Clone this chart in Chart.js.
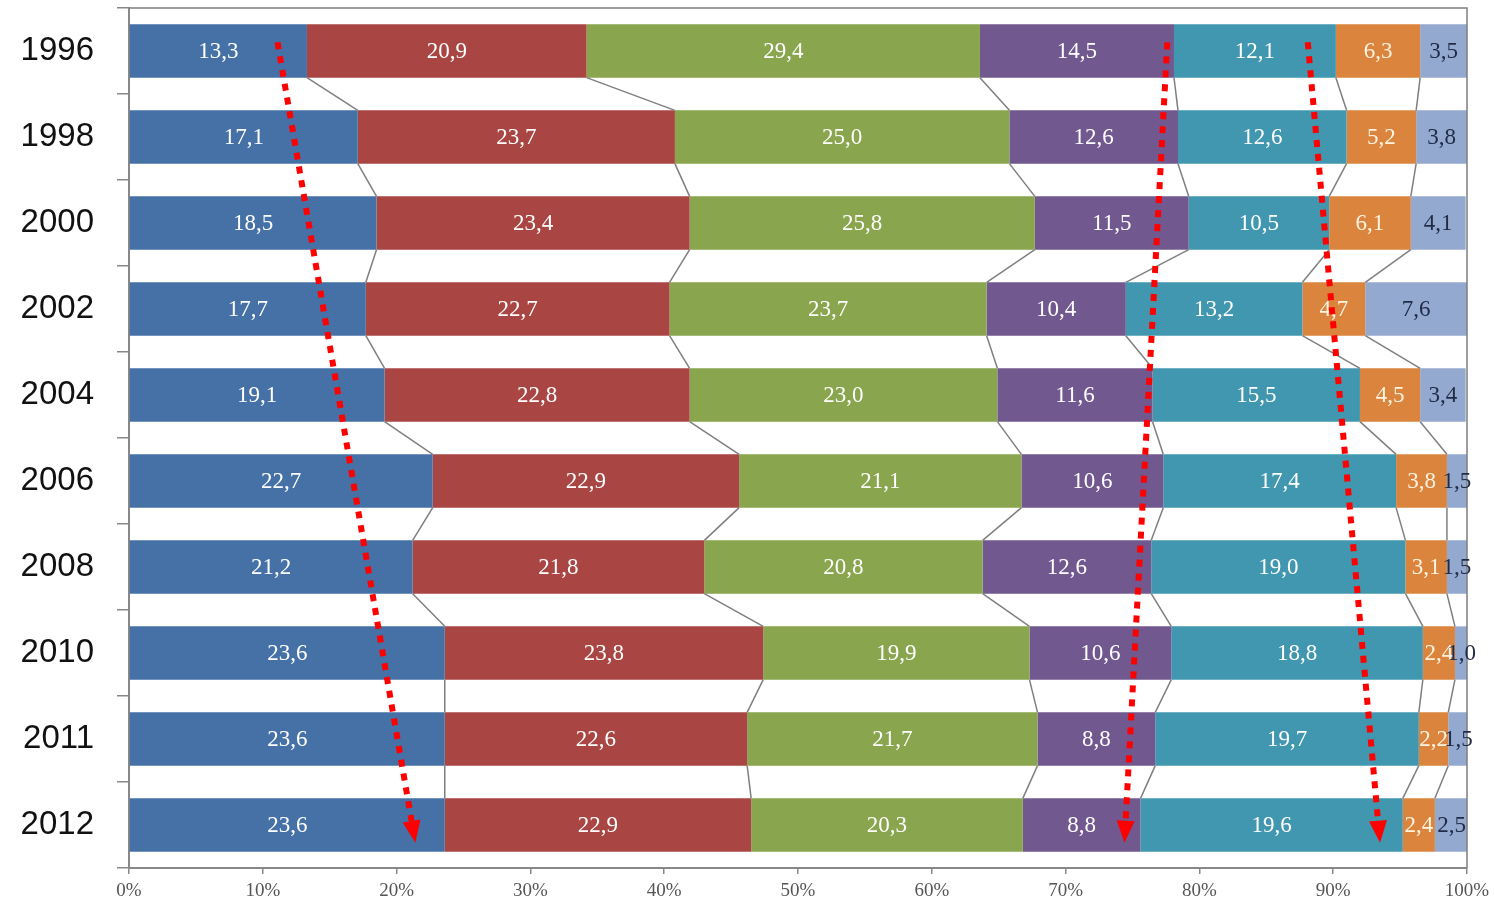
<!DOCTYPE html>
<html lang="zh">
<head>
  <meta charset="UTF-8">
  <title>1996-2012 shares</title>
  <script src="https://cdn.jsdelivr.net/npm/chart.js"></script>
  <style>
    html, body { margin: 0; padding: 0; background: #fff; }
    canvas { display: block; }
  </style>
</head>
<body>
  <canvas id="shareChart" width="1494" height="902"></canvas>
  <script>
    // data
    const years = ['1996', '1998', '2000', '2002', '2004', '2006', '2008', '2010', '2011', '2012'];
    const s1 = [13.3, 17.1, 18.5, 17.7, 19.1, 22.7, 21.2, 23.6, 23.6, 23.6];
    const s2 = [20.9, 23.7, 23.4, 22.7, 22.8, 22.9, 21.8, 23.8, 22.6, 22.9];
    const s3 = [29.4, 25.0, 25.8, 23.7, 23.0, 21.1, 20.8, 19.9, 21.7, 20.3];
    const s4 = [14.5, 12.6, 11.5, 10.4, 11.6, 10.6, 12.6, 10.6, 8.8, 8.8];
    const s5 = [12.1, 12.6, 10.5, 13.2, 15.5, 17.4, 19.0, 18.8, 19.7, 19.6];
    const s6 = [6.3, 5.2, 6.1, 4.7, 4.5, 3.8, 3.1, 2.4, 2.2, 2.4];
    const s7 = [3.5, 3.8, 4.1, 7.6, 3.4, 1.5, 1.5, 1.0, 1.5, 2.5];
    const xTicks = [0, 10, 20, 30, 40, 50, 60, 70, 80, 90, 100];

    // red trend arrows: % position in 1996 -> % position in 2012
    const arrowFrom = [11.1, 77.6, 88.1];
    const arrowTo = [21.4, 74.4, 93.5];

    const series = [s1, s2, s3, s4, s5, s6, s7];
    const fills = ['#4571a7', '#a94643', '#89a54e', '#71588f', '#4197af', '#db843d', '#93a9cf'];
    const labelColors = ['#ffffff', '#ffffff', '#ffffff', '#ffffff', '#ffffff', '#fff3df', '#1f2b47'];

    const fmt = v => v.toFixed(1).replace('.', ',');

    const seriesLines = {
      id: 'seriesLines',
      afterDatasetsDraw(chart) {
        const ctx = chart.ctx;
        ctx.save();
        ctx.strokeStyle = '#7f7f7f';
        ctx.lineWidth = 1.5;
        for (let d = 0; d < series.length - 1; d++) {
          const els = chart.getDatasetMeta(d).data;
          for (let k = 0; k < els.length - 1; k++) {
            const a = els[k], b = els[k + 1];
            ctx.beginPath();
            ctx.moveTo(a.x, a.y + a.height / 2);
            ctx.lineTo(b.x, b.y - b.height / 2);
            ctx.stroke();
          }
        }
        // frame top / right
        const ca = chart.chartArea;
        ctx.beginPath();
        ctx.moveTo(ca.left, ca.top);
        ctx.lineTo(ca.right, ca.top);
        ctx.lineTo(ca.right, ca.bottom);
        ctx.stroke();

        // value labels
        ctx.font = '23px "Liberation Serif", "Times New Roman", serif';
        ctx.textAlign = 'center';
        ctx.textBaseline = 'middle';
        series.forEach((vals, d) => {
          ctx.fillStyle = labelColors[d];
          chart.getDatasetMeta(d).data.forEach((el, k) => {
            const cx = (el.x + el.base) / 2;
            ctx.fillText(fmt(vals[k]), cx, el.y + 1);
          });
        });

        // dotted red arrows
        const xs = chart.scales.x;
        const first = chart.getDatasetMeta(0).data[0];
        const last = chart.getDatasetMeta(0).data[years.length - 1];
        ctx.fillStyle = '#ff0000';
        ctx.strokeStyle = '#ff0000';
        ctx.lineWidth = 6;
        arrowFrom.forEach((p, i) => {
          const x0 = xs.getPixelForValue(p);
          const y0 = first.y - first.height / 2 + 18;
          const x1 = xs.getPixelForValue(arrowTo[i]);
          const y1 = last.y + last.height / 2 - 9;
          const ang = Math.atan2(y1 - y0, x1 - x0);
          const head = 22, half = 9;
          const bx = x1 - head * Math.cos(ang);
          const by = y1 - head * Math.sin(ang);
          ctx.setLineDash([7, 7]);
          ctx.beginPath();
          ctx.moveTo(x0, y0);
          ctx.lineTo(bx, by);
          ctx.stroke();
          ctx.setLineDash([]);
          ctx.beginPath();
          ctx.moveTo(x1, y1);
          ctx.lineTo(bx + half * Math.sin(ang), by - half * Math.cos(ang));
          ctx.lineTo(bx - half * Math.sin(ang), by + half * Math.cos(ang));
          ctx.closePath();
          ctx.fill();
        });
        ctx.restore();
      }
    };

    new Chart(document.getElementById('shareChart'), {
      type: 'bar',
      data: {
        labels: years,
        datasets: series.map((vals, d) => ({
          data: vals,
          backgroundColor: fills[d],
          borderWidth: 0,
          barPercentage: 0.62,
          categoryPercentage: 1
        }))
      },
      options: {
        indexAxis: 'y',
        responsive: false,
        animation: false,
        devicePixelRatio: 1,
        layout: { padding: { top: 8, right: 27, left: 0, bottom: 0 } },
        plugins: { legend: { display: false }, tooltip: { enabled: false } },
        scales: {
          x: {
            stacked: true,
            min: 0,
            max: 100,
            afterBuildTicks: s => { s.ticks = xTicks.map(v => ({ value: v })); },
            afterFit: s => { s.height = 34; s.paddingLeft = 0; s.paddingRight = 0; },
            ticks: {
              callback: v => v + '%',
              color: '#555555',
              padding: 6,
              maxRotation: 0,
              font: { family: '"Liberation Serif", "Times New Roman", serif', size: 19 }
            },
            grid: { drawOnChartArea: false, tickLength: 6, color: '#888888', lineWidth: 1.5 },
            border: { color: '#888888', width: 2 }
          },
          y: {
            stacked: true,
            afterFit: s => { s.width = 129; s.paddingTop = 0; s.paddingBottom = 0; },
            ticks: {
              color: '#111111',
              padding: 23,
              font: { family: '"Liberation Sans", Arial, sans-serif', size: 33 }
            },
            grid: { drawOnChartArea: false, offset: true, tickLength: 12, color: '#888888', lineWidth: 1.5 },
            border: { color: '#888888', width: 2 }
          }
        }
      },
      plugins: [seriesLines]
    });
  </script>
</body>
</html>
